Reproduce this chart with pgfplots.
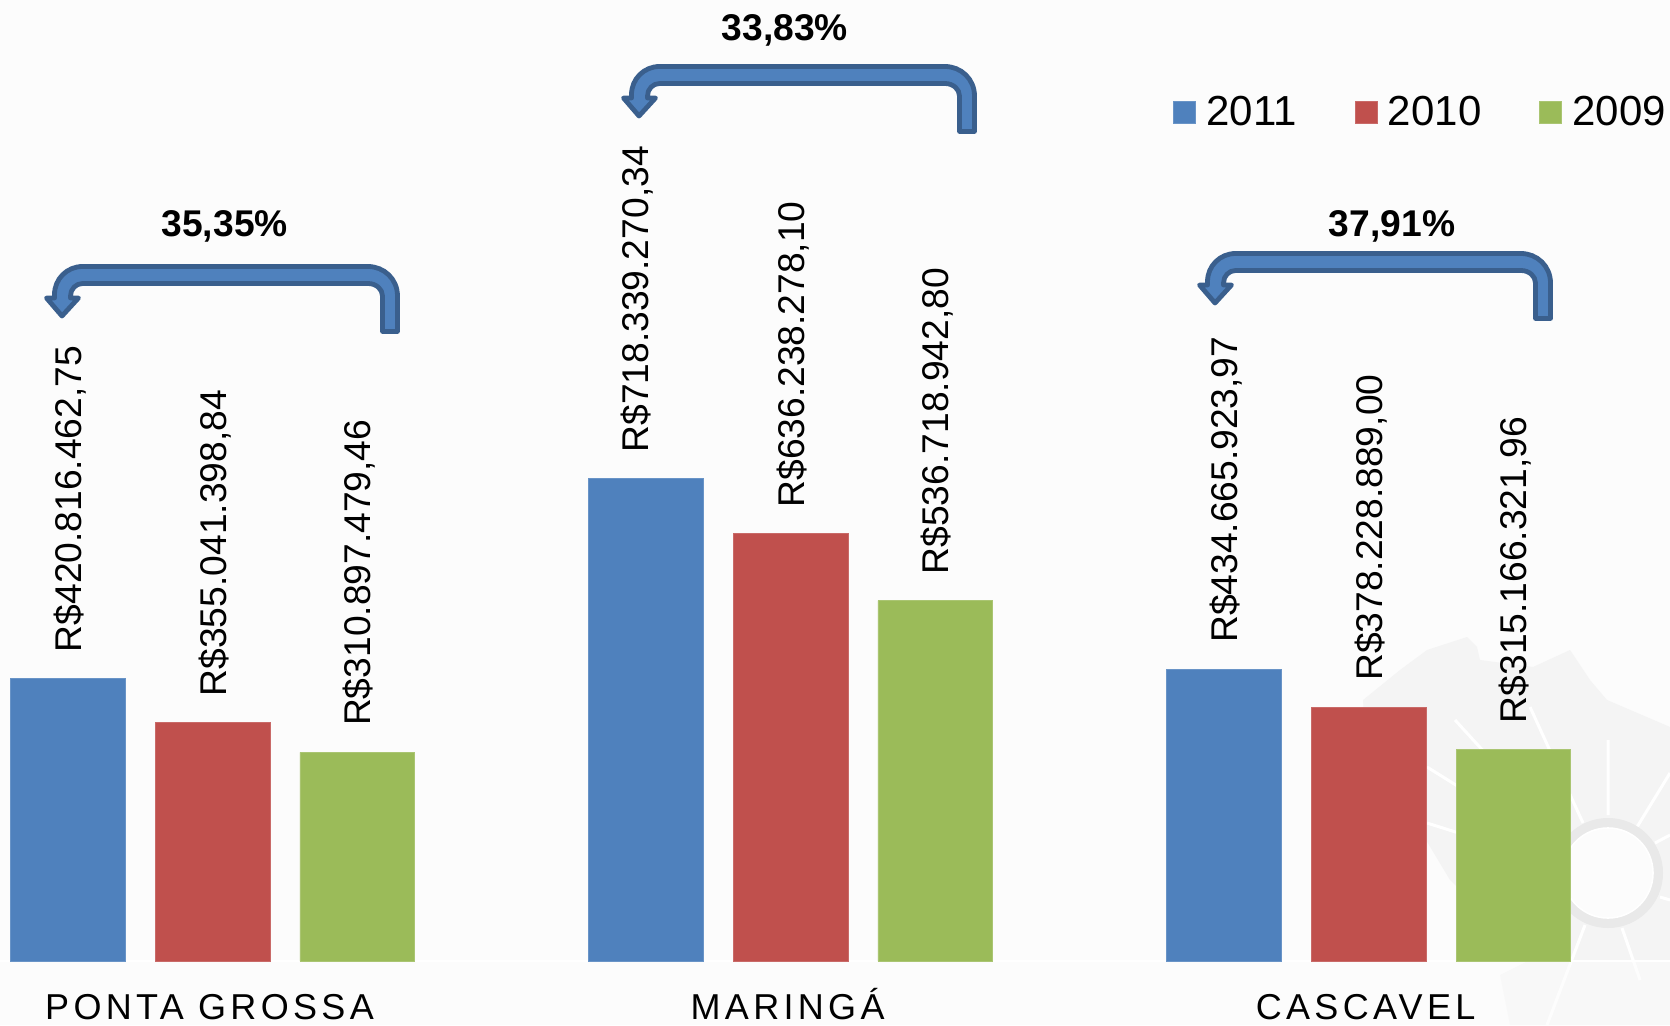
\documentclass[border=0pt]{standalone}
\usepackage{fontspec}
\usepackage{pgfplots}
\pgfplotsset{compat=1.18}
\setmainfont{Liberation Sans}
\newfontfamily\spaced[LetterSpace=12]{Liberation Sans}

\definecolor{bgc}{HTML}{FCFCFC}
\definecolor{c2011}{HTML}{4F81BD}
\definecolor{c2010}{HTML}{C0504D}
\definecolor{c2009}{HTML}{9BBB59}
\definecolor{arrowline}{HTML}{3A5F8D}
\definecolor{mapc}{HTML}{F4F4F4}
\definecolor{ringc}{HTML}{E9E9E9}

\tikzset{px/.style={x=0.5pt,y=-0.5pt,yshift=512.5pt}}
\newcommand{\upshift}[1]{\raisebox{5.3pt}[0pt][0pt]{#1}}

% bent arrow, coordinates are for the first one, #1 #2 move it
\newcommand{\bentarrow}[2]{%
  \draw[shift={(#1,#2)},fill=c2011,draw=arrowline,line width=2.4pt,line join=round]
    (397.5,330.5) -- (397.5,295)
    .. controls (397.5,278) and (384,265.5) .. (368,265.5)
    -- (82.5,265.5)
    .. controls (67,265.5) and (54.5,278) .. (54.5,293.5)
    -- (54.5,297) -- (46.5,297) -- (62,315) -- (78.5,297) -- (70.5,297) -- (70.5,295)
    .. controls (70.5,288) and (76,282.5) .. (82.5,282.5)
    -- (368,282.5)
    .. controls (376,282.5) and (382.5,288) .. (382.5,295)
    -- (382.5,330.5) -- cycle;}

\pgfplotsset{sq/.style={legend image code/.code={\fill[##1] (0pt,-5.5pt) rectangle (11pt,5.5pt); \path (14.2pt,0pt);}}}

\begin{document}
\begin{tikzpicture}
\path[use as bounding box] (0pt,0pt) rectangle (835pt,512.5pt);
\begin{scope}[px]
  \fill[bgc] (0,0) rectangle (1670,1025);
  % watermark
  \fill[mapc] (1363,700) -- (1400,670) -- (1427,650) -- (1467,637) -- (1477,647) -- (1480,660)
    -- (1533,667) -- (1570,650) -- (1590,680) -- (1607,700) -- (1670,727) -- (1670,1025)
    -- (1510,1025) -- (1500,975) -- (1530,960) -- (1450,880) -- (1420,830) -- (1400,780)
    -- (1365,730) -- cycle;
  \draw[white,line width=1.5pt]
    (1608,740) -- (1608,815)
    (1670,773) -- (1637,827)
    (1655,843) -- (1670,835)
    (1660,897) -- (1670,900)
    (1622,928) -- (1640,980)
    (1585,925) -- (1547,1025)
    (1583,823) -- (1530,707)
    (1560,835) -- (1455,720)
    (1560,850) -- (1427,767)
    (1560,865) -- (1427,823);
  \filldraw[fill=bgc,draw=ringc,line width=5pt] (1608,873) circle[radius=50];
  \draw[white,line width=0.8pt] (1608,873) circle[radius=45];
  \fill[bgc,opacity=0.5] (1340,962) rectangle (1670,1025);
\end{scope}
\begin{axis}[
  at={(0pt,32pt)},
  anchor=south west,
  scale only axis,
  width=835pt,
  height=480.5pt,
  ybar=14.9pt,
  bar width=57.4pt,
  xmin=-0.368, xmax=2.521,
  ymin=0, ymax=1431.5,
  axis y line=none,
  axis x line=bottom,
  x axis line style={white,line width=0.8pt,-},
  xtick={0,1,2},
  xticklabels={PONTA GROSSA,MARINGÁ,CASCAVEL},
  xtick style={draw=none},
  x tick label style={font=\spaced\fontsize{18}{20}\selectfont,text=black,
    text height=13pt,text depth=0pt,yshift=-10.4pt,xshift=-1.6pt},
  ytick=\empty,
  clip=false,
  point meta=explicit symbolic,
  nodes near coords,
  every node near coord/.append style={font=\fontsize{18.6}{20}\selectfont,text=black,
    rotate=90,anchor=west,inner xsep=13pt,inner ysep=0pt,text height=13.3pt,text depth=0pt},
  legend columns=3,
  legend style={at={(0.7023,0.8833)},anchor=west,draw=none,fill=none,inner sep=0pt,
    font=\fontsize{21}{23}\selectfont,
    /tikz/every even column/.append style={column sep=27pt}},
]
\addplot[sq,fill=c2011,draw=c2011!85!white,line width=0.4pt] coordinates {
  (0,420.816) [R\$420.816.462,75]
  (1,718.339) [\upshift{R\$718.339.270,34}]
  (2,434.666) [R\$434.665.923,97]
};
\addplot[sq,fill=c2010,draw=c2010!85!white,line width=0.4pt] coordinates {
  (0,355.041) [R\$355.041.398,84]
  (1,636.238) [R\$636.238.278,10]
  (2,378.229) [R\$378.228.889,00]
};
\addplot[sq,fill=c2009,draw=c2009!85!white,line width=0.4pt] coordinates {
  (0,310.897) [R\$310.897.479,46]
  (1,536.719) [R\$536.718.942,80]
  (2,315.166) [R\$315.166.321,96]
};
\legend{2011,2010,2009}
\end{axis}
\begin{scope}[px]
  \bentarrow{0}{1}
  \bentarrow{577}{-199}
  \bentarrow{1153}{-12}
  \node[anchor=base,font=\bfseries\fontsize{18.6}{20}\selectfont] at (224.7,237) {35,35\%};
  \node[anchor=base,font=\bfseries\fontsize{18.6}{20}\selectfont] at (785,41) {33,83\%};
  \node[anchor=base,font=\bfseries\fontsize{18.6}{20}\selectfont] at (1392,237) {37,91\%};
\end{scope}
\end{tikzpicture}
\end{document}
